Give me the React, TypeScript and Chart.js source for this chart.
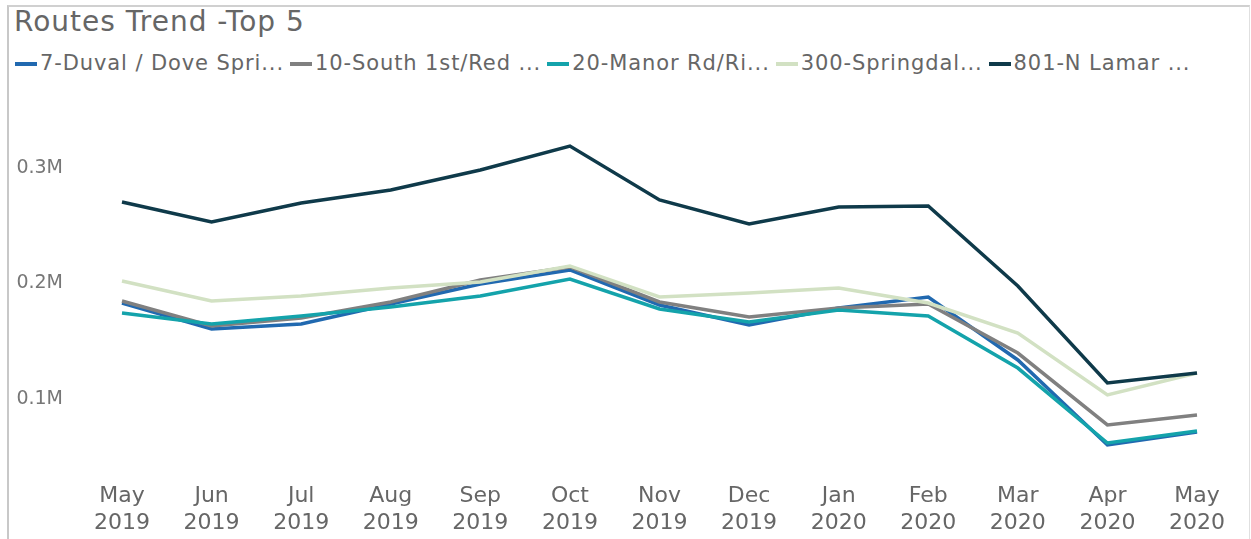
import React, { useEffect, useRef } from "react";
import { Chart, registerables } from "chart.js";

Chart.register(...registerables);

const months: string[][] = [
  ["May", "2019"], ["Jun", "2019"], ["Jul", "2019"], ["Aug", "2019"], ["Sep", "2019"],
  ["Oct", "2019"], ["Nov", "2019"], ["Dec", "2019"], ["Jan", "2020"], ["Feb", "2020"],
  ["Mar", "2020"], ["Apr", "2020"], ["May", "2020"],
];

const seriesNames = [
  "7-Duval / Dove Spri...",
  "10-South 1st/Red ...",
  "20-Manor Rd/Ri...",
  "300-Springdal...",
  "801-N Lamar ...",
];

const seriesColors = ["#2169b0", "#808080", "#14a3ab", "#d2e1c3", "#0f3a4a"];

const duval = [183100, 160600, 164900, 182300, 199600, 211700, 181400, 164100, 178800, 188300, 133800, 60200, 71400];
const southFirst = [184800, 163200, 170100, 184000, 203000, 214300, 184000, 171000, 178800, 182300, 139800, 77500, 86100];
const manor = [174500, 164900, 171900, 179700, 189200, 203900, 177900, 166700, 177100, 171900, 126800, 61900, 72300];
const springdale = [202200, 184800, 189200, 196100, 201300, 215200, 188300, 191800, 196100, 183100, 157100, 103500, 122500];
const lamar = [270600, 253200, 269700, 281000, 298300, 319000, 272300, 251500, 266200, 267100, 197800, 113900, 122500];

const seriesValues = [duval, southFirst, manor, springdale, lamar];

const yTicks = [100000, 200000, 300000];

export default function App() {
  const canvasRef = useRef<HTMLCanvasElement | null>(null);

  useEffect(() => {
    if (!canvasRef.current) return;
    const chart = new Chart(canvasRef.current, {
      type: "line",
      data: {
        labels: months,
        datasets: seriesNames.map((name, i) => ({
          label: name,
          data: seriesValues[i],
          borderColor: seriesColors[i],
          backgroundColor: seriesColors[i],
          borderWidth: 3.5,
          pointRadius: 0,
          tension: 0,
          fill: false,
          order: i === 4 ? 0 : 5 - i,
        })),
      },
      options: {
        animation: false,
        responsive: false,
        maintainAspectRatio: false,
        layout: { padding: { left: 5, right: 50, top: 99, bottom: 0 } },
        plugins: {
          title: { display: false },
          tooltip: { enabled: false },
          legend: { display: false },
        },
        scales: {
          x: {
            offset: false,
            grid: { display: false, drawTicks: false },
            border: { display: false },
            afterFit: (scale: any) => {
              scale.height = 82;
            },
            ticks: {
              autoSkip: false,
              maxRotation: 0,
              minRotation: 0,
              padding: 26,
              color: "#666666",
              font: { family: "'DejaVu Sans'", size: 22, lineHeight: 1.23 },
            },
          },
          y: {
            min: 49780,
            max: 359740,
            grid: { display: false, drawTicks: false },
            border: { display: false },
            afterBuildTicks: (scale: any) => {
              scale.ticks = yTicks.map((v) => ({ value: v }));
            },
            afterFit: (scale: any) => {
              scale.width = 117;
            },
            ticks: {
              padding: 59,
              color: "#777777",
              font: { family: "'DejaVu Sans'", size: 19 },
              callback: (v: any) => (Number(v) / 1000000).toFixed(1) + "M",
            },
          },
        },
      },
    });
    return () => chart.destroy();
  }, []);

  return (
    <div style={{ position: "absolute", left: 0, top: 0, width: 1251, height: 539, background: "#ffffff", overflow: "hidden" }}>
      <div
        style={{
          position: "absolute",
          left: 7,
          top: 5,
          width: 1240,
          height: 540,
          borderLeft: "2px solid #c8c8c8",
          borderTop: "2px solid #d0d0d0",
          borderRight: "1px solid #e0e0e0",
        }}
      />
      <div
        style={{
          position: "absolute",
          left: 14,
          top: 7,
          fontFamily: "'DejaVu Sans', sans-serif",
          fontSize: 28,
          letterSpacing: "1px",
          color: "#666666",
          whiteSpace: "nowrap",
          lineHeight: "30px",
        }}
      >
        Routes Trend -Top 5
      </div>
      <div
        style={{
          position: "absolute",
          left: 15,
          top: 51,
          display: "flex",
          alignItems: "center",
          whiteSpace: "nowrap",
          fontFamily: "'DejaVu Sans', sans-serif",
          fontSize: 21,
          lineHeight: "24px",
          letterSpacing: "0.9px",
          color: "#666666",
        }}
      >
        {seriesNames.map((name, i) => (
          <div key={name} style={{ display: "flex", alignItems: "center", marginRight: 6 }}>
            <span
              style={{
                display: "inline-block",
                width: 22,
                height: 4,
                background: seriesColors[i],
                marginRight: 3,
                position: "relative",
                top: 1,
              }}
            />
            <span>{name}</span>
          </div>
        ))}
      </div>
      <canvas ref={canvasRef} width={1251} height={539} style={{ position: "absolute", left: 0, top: 0 }} />
    </div>
  );
}
